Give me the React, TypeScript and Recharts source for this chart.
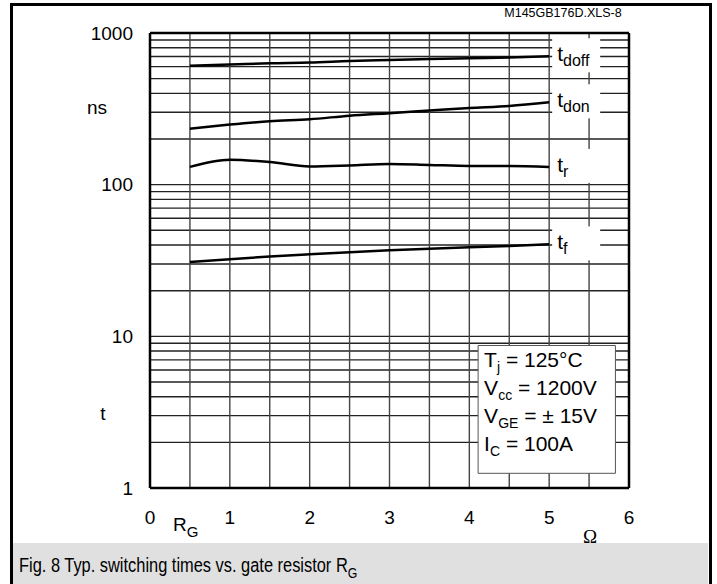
import {
  LineChart,
  Line,
  XAxis,
  YAxis,
  CartesianGrid,
  ReferenceLine,
  ReferenceArea,
} from "recharts";

const FONT = '"Liberation Sans", Arial, sans-serif';

// gate resistor R_G in ohm
const RG = [0.5, 1, 1.5, 2, 2.5, 3, 3.5, 4, 4.5, 5];
// switching times in ns
const T_DOFF = [609, 619, 631, 638, 653, 664, 674, 682, 689, 702];
const T_DON = [234, 249, 262, 270, 285, 296, 308, 320, 330, 349];
const T_R = [131, 146, 141, 132, 134, 137, 135, 133, 133, 131];
const T_F = [30.9, 32.2, 33.6, 34.8, 35.9, 36.9, 37.8, 38.6, 39.4, 40.4];

const X_TICKS = [0, 0.5, 1, 1.5, 2, 2.5, 3, 3.5, 4, 4.5, 5, 5.5, 6];
const X_LABELS = [0, 1, 2, 3, 4, 5, 6];
const Y_TICKS = [
  1, 2, 3, 4, 5, 6, 7, 8, 9, 10, 20, 30, 40, 50, 60, 70, 80, 90, 100, 200,
  300, 400, 500, 600, 700, 800, 900, 1000,
];
const Y_LABELS = [1, 10, 100, 1000];

const CONDITIONS = [
  { main: "T", sub: "j", rest: " = 125°C" },
  { main: "V", sub: "cc", rest: " = 1200V" },
  { main: "V", sub: "GE", rest: " = ± 15V" },
  { main: "I", sub: "C", rest: " = 100A" },
];

const data = RG.map((rg, i) => ({
  rg,
  tdoff: T_DOFF[i],
  tdon: T_DON[i],
  tr: T_R[i],
  tf: T_F[i],
}));

const last = RG.length - 1;

const seriesLabel = (sub: string) => (p: any) => {
  if (p.index !== last) return null;
  const x = Number(p.x);
  const y = Number(p.y);
  return (
    <g>
      <rect x={x + 3} y={y - 18} width={48} height={34} fill="#fff" />
      <text x={x + 8} y={y + 5} fontSize={21} fontFamily={FONT} fill="#000">
        t
        <tspan fontSize={16} dy={5}>
          {sub}
        </tspan>
      </text>
    </g>
  );
};

const ConditionsLabel = (p: any) => {
  const vb = p.viewBox || {};
  const x = Number(vb.x) + 6;
  const y = Number(vb.y);
  return (
    <g>
      {CONDITIONS.map((c, i) => (
        <text
          key={c.main + c.sub}
          x={x}
          y={y + 21 + i * 28}
          fontSize={21}
          fontFamily={FONT}
          fill="#000"
        >
          {c.main}
          <tspan fontSize={14} dy={5}>
            {c.sub}
          </tspan>
          <tspan dy={-5}>{c.rest}</tspan>
        </text>
      ))}
    </g>
  );
};

export default function App() {
  return (
    <div
      style={{
        position: "absolute",
        left: 0,
        top: 0,
        width: 717,
        height: 584,
        overflow: "hidden",
        background: "#fff",
      }}
    >
      <div
        style={{
          position: "absolute",
          left: 10,
          top: 3,
          width: 696,
          height: 600,
          border: "3px solid #000",
        }}
      />
      <LineChart
        width={717}
        height={584}
        data={data}
        margin={{ top: 33, right: 88, left: 0, bottom: 0 }}
        style={{ position: "absolute", left: 0, top: 0, fontFamily: FONT }}
      >
        <CartesianGrid vertical={false} stroke="#222" strokeWidth={1.4} />
        <CartesianGrid horizontal={false} stroke="#444" strokeWidth={1.4} />
        <XAxis
          dataKey="rg"
          type="number"
          domain={[0, 6]}
          ticks={X_TICKS}
          interval={0}
          height={96}
          axisLine={false}
          tickLine={false}
          tickSize={0}
          tickMargin={23}
          tick={{ fill: "#000", fontSize: 19, fontFamily: FONT }}
          tickFormatter={(v: number) => (X_LABELS.includes(v) ? String(v) : "")}
        />
        <YAxis
          scale="log"
          domain={[1, 1000]}
          ticks={Y_TICKS}
          interval={0}
          width={150}
          allowDataOverflow
          axisLine={false}
          tickLine={false}
          tickSize={0}
          tickMargin={17}
          tick={{ fill: "#000", fontSize: 19, fontFamily: FONT }}
          tickFormatter={(v: number) => (Y_LABELS.includes(v) ? String(v) : "")}
        />
        <ReferenceArea
          x1={4.11}
          x2={5.83}
          y1={1.25}
          y2={8.7}
          fill="#fff"
          fillOpacity={1}
          stroke="#555"
          strokeWidth={1}
          label={<ConditionsLabel />}
        />
        <ReferenceLine x={0} stroke="#000" strokeWidth={2.5} />
        <ReferenceLine x={6} stroke="#000" strokeWidth={2.5} />
        <ReferenceLine y={1} stroke="#000" strokeWidth={2.5} />
        <ReferenceLine y={1000} stroke="#000" strokeWidth={2.5} />
        <Line
          dataKey="tdoff"
          type="monotone"
          stroke="#000"
          strokeWidth={2.5}
          dot={false}
          activeDot={false}
          isAnimationActive={false}
          label={seriesLabel("doff")}
        />
        <Line
          dataKey="tdon"
          type="monotone"
          stroke="#000"
          strokeWidth={2.5}
          dot={false}
          activeDot={false}
          isAnimationActive={false}
          label={seriesLabel("don")}
        />
        <Line
          dataKey="tr"
          type="monotone"
          stroke="#000"
          strokeWidth={2.5}
          dot={false}
          activeDot={false}
          isAnimationActive={false}
          label={seriesLabel("r")}
        />
        <Line
          dataKey="tf"
          type="monotone"
          stroke="#000"
          strokeWidth={2.5}
          dot={false}
          activeDot={false}
          isAnimationActive={false}
          label={seriesLabel("f")}
        />
      </LineChart>
      <svg
        width={717}
        height={584}
        style={{ position: "absolute", left: 0, top: 0, pointerEvents: "none" }}
      >
        <text x={563} y={17} fontSize={12.5} fontFamily={FONT} textAnchor="middle" fill="#000">
          M145GB176D.XLS-8
        </text>
        <text x={97} y={114} fontSize={19} fontFamily={FONT} textAnchor="middle" fill="#000">
          ns
        </text>
        <text x={103} y={420} fontSize={19} fontFamily={FONT} textAnchor="middle" fill="#000">
          t
        </text>
        <text x={173} y={531} fontSize={19} fontFamily={FONT} fill="#000">
          R
          <tspan fontSize={15} dy={6}>
            G
          </tspan>
        </text>
        <text
          x={590}
          y={543}
          fontSize={19}
          fontFamily='"Liberation Serif", "Times New Roman", serif'
          textAnchor="middle"
          fill="#000"
        >
          Ω
        </text>
      </svg>
      <div
        style={{
          position: "absolute",
          left: 13,
          top: 543,
          width: 695,
          height: 41,
          background: "#e0e0e0",
          fontFamily: FONT,
          fontSize: 20,
          lineHeight: "20px",
          color: "#000",
        }}
      >
        <div
          style={{
            position: "absolute",
            left: 6,
            top: 12,
            whiteSpace: "nowrap",
            transform: "scaleX(0.82)",
            transformOrigin: "left top",
          }}
        >
          Fig. 8 Typ. switching times vs. gate resistor R
          <span style={{ fontSize: 15, position: "relative", top: 6 }}>G</span>
        </div>
      </div>
    </div>
  );
}
